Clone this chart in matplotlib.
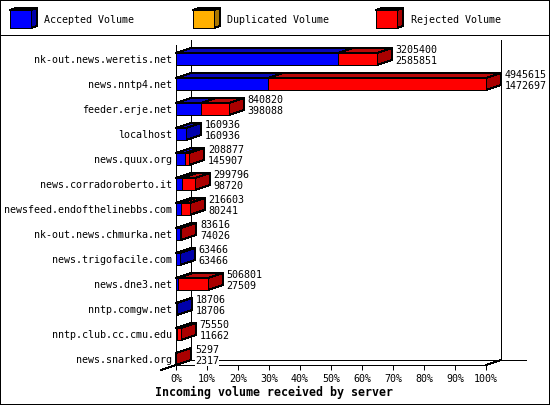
import matplotlib
matplotlib.use("Agg")
import matplotlib.pyplot as plt
from matplotlib.patches import Polygon, Rectangle

plt.rcParams.update({"font.family": "DejaVu Sans Mono", "text.antialiased": True,
                     "lines.antialiased": False, "patch.antialiased": False})

servers = ["nk-out.news.weretis.net", "news.nntp4.net", "feeder.erje.net", "localhost",
           "news.quux.org", "news.corradoroberto.it", "newsfeed.endofthelinebbs.com",
           "nk-out.news.chmurka.net", "news.trigofacile.com", "news.dne3.net",
           "nntp.comgw.net", "nntp.club.cc.cmu.edu", "news.snarked.org"]
total_volume = [3205400, 4945615, 840820, 160936, 208877, 299796, 216603,
                83616, 63466, 506801, 18706, 75550, 5297]
accepted_volume = [2585851, 1472697, 398088, 160936, 145907, 98720, 80241,
                   74026, 63466, 27509, 18706, 11662, 2317]
legend_labels = ["Accepted Volume", "Duplicated Volume", "Rejected Volume"]
x_ticks = list(range(0, 101, 10))
x_title = "Incoming volume received by server"

W, H = 550, 405
LW = 0.72
FS = 7.2
BLUE = ("#0000ff", "#0000aa", "#0808b8")
ORANGE = ("#ffb000", "#aa7700", "#c08800")
RED = ("#ff0000", "#aa0000", "#b80808")

fig = plt.figure(figsize=(W / 100, H / 100), dpi=100, facecolor="white")

# pixel-space layer: frame, legend and chart walls
bg = fig.add_axes([0, 0, 1, 1], zorder=0)
bg.set_xlim(0, W)
bg.set_ylim(H, 0)
bg.axis("off")

def pline(xs, ys):
    bg.plot(xs, ys, color="black", lw=LW, solid_capstyle="projecting", clip_on=False)

pline([0, 549, 549, 0, 0], [0, 0, 404, 404, 0])
pline([0, 550], [35, 35])
pline([191, 191], [40, 360])
pline([501, 501], [40, 360])
pline([176, 176], [45, 365])
pline([191, 526], [360, 360])
pline([161, 191], [370, 360])
pline([486, 501], [365, 360])

for (cols, bx, tx, lab) in zip((BLUE, ORANGE, RED), (10, 193, 376), (44, 227, 411), legend_labels):
    bg.add_patch(Polygon([(bx, 10), (bx + 6, 8), (bx + 27, 8), (bx + 21, 10)], fc=cols[2], ec="black", lw=LW))
    bg.add_patch(Polygon([(bx + 21, 10), (bx + 27, 8), (bx + 27, 26), (bx + 21, 28)], fc=cols[1], ec="black", lw=LW))
    bg.add_patch(Rectangle((bx, 10), 21, 18, fc=cols[0], ec="black", lw=LW))
    bg.text(tx, 20, lab, fontsize=FS, va="center", ha="left")

# data axes: 0-100 % over 310 px, rows 25 px apart
ax_left, ax_bottom_px, ax_top_px = 176, 365, 45
ax = fig.add_axes([ax_left / W, 1 - ax_bottom_px / H, 310 / W, (ax_bottom_px - ax_top_px) / H], zorder=1)
ax.patch.set_alpha(0)
ax.set_xlim(0, 100)
y0 = (ax_bottom_px - 59) / 25
ax.set_ylim(y0, y0 - (ax_bottom_px - ax_top_px) / 25)
for s in ax.spines.values():
    s.set_visible(False)
ax.spines["bottom"].set_visible(True)
ax.spines["bottom"].set_linewidth(LW)

ax.set_xticks(x_ticks, [f"{t}%" for t in x_ticks], fontsize=FS)
ax.tick_params(axis="x", length=3.6, width=LW, pad=2.6)
ax.set_yticks(range(len(servers)), servers, fontsize=FS)
ax.tick_params(axis="y", length=0, pad=3)
ax.set_xlabel(x_title, fontsize=8.4, fontweight="bold")
ax.xaxis.set_label_coords((274 - ax_left) / 310, (ax_bottom_px - 386) / (ax_bottom_px - ax_top_px))

dx = 15 / 3.1     # depth, in percent
dy = 5 / 25       # depth, in rows
hh = 6 / 25       # half bar height, in rows
peak = max(total_volume)

def box(x1, x2, y, cols, side, z):
    ax.add_patch(Polygon([(x1, y - hh), (x1 + dx, y - hh - dy), (x2 + dx, y - hh - dy), (x2, y - hh)],
                         fc=cols[2], ec="black", lw=LW, clip_on=False, zorder=z))
    if side:
        ax.add_patch(Polygon([(x2, y - hh), (x2 + dx, y - hh - dy), (x2 + dx, y + hh - dy), (x2, y + hh)],
                             fc=cols[1], ec="black", lw=LW, clip_on=False, zorder=z))
    ax.add_patch(Rectangle((x1, y - hh), x2 - x1, 2 * hh, fc=cols[0], ec="black", lw=LW,
                           clip_on=False, zorder=z + 0.1))

for i, (tot, acc) in enumerate(zip(total_volume, accepted_volume)):
    pa, pt = acc / peak * 100, tot / peak * 100
    box(0, pa, i, BLUE, tot == acc, 3 + i)
    if tot > acc:
        box(pa, pt, i, RED, True, 3 + i + 0.2)
    tx = pt + 18.8 / 3.1
    for val, off in ((tot, -9 / 25), (acc, 2 / 25)):
        ax.text(tx, i + off, str(val), fontsize=FS, ha="left", va="center", zorder=30,
                bbox=dict(fc="white", ec="none", pad=0.2))

fig.savefig("out.png", dpi=100, facecolor="white")
